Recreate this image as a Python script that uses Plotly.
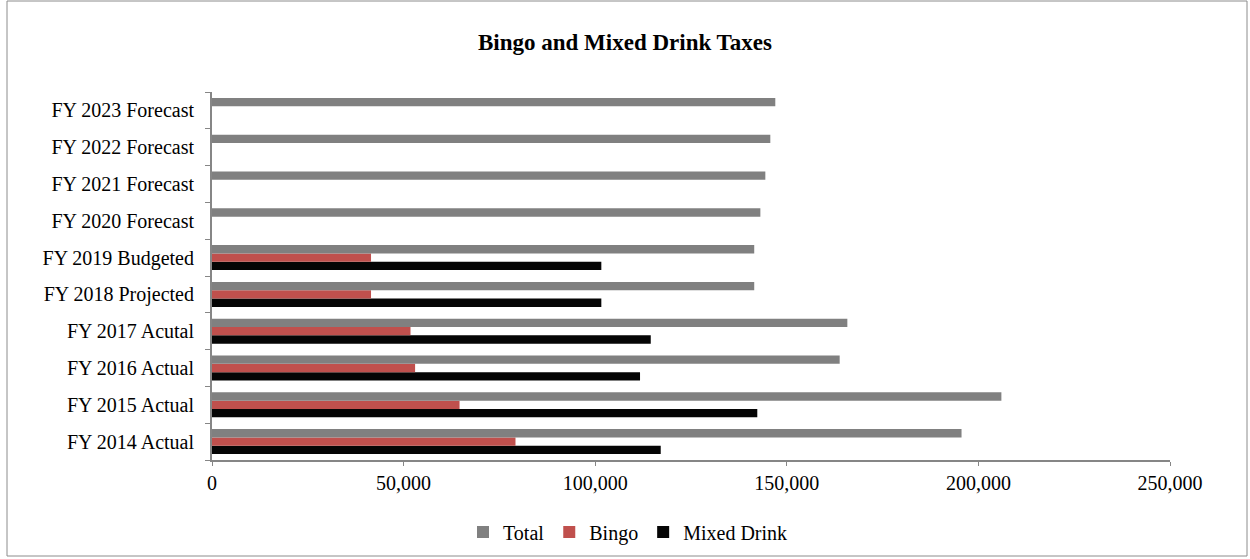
import plotly.graph_objects as go

categories = ["FY 2014 Actual", "FY 2015 Actual", "FY 2016 Actual", "FY 2017 Acutal",
              "FY 2018 Projected", "FY 2019 Budgeted", "FY 2020 Forecast",
              "FY 2021 Forecast", "FY 2022 Forecast", "FY 2023 Forecast"]
total = [195600, 206000, 163800, 165800, 141500, 141500, 143100, 144400, 145700, 147000]
bingo = [79200, 64600, 53000, 51800, 41500, 41500, None, None, None, None]
mixed_drink = [117100, 142300, 111700, 114500, 101600, 101600, None, None, None, None]
x_ticks = [0, 50000, 100000, 150000, 200000, 250000]
x_tick_text = ["0", "50,000", "100,000", "150,000", "200,000", "250,000"]

FONT = "Liberation Serif, Times New Roman, serif"
AXIS = "#868686"

fig = go.Figure()
fig.add_trace(go.Bar(y=categories, x=mixed_drink, name="Mixed Drink", orientation="h",
                     marker=dict(color="#050505", line=dict(width=0))))
fig.add_trace(go.Bar(y=categories, x=bingo, name="Bingo", orientation="h",
                     marker=dict(color="#C0504D", line=dict(width=0))))
fig.add_trace(go.Bar(y=categories, x=total, name="Total", orientation="h",
                     marker=dict(color="#808080", line=dict(width=0))))

fig.update_layout(
    width=1250, height=559,
    margin=dict(l=212, r=80, t=92, b=99),
    paper_bgcolor="white", plot_bgcolor="white",
    barmode="group", bargap=0.32, bargroupgap=0,
    font=dict(family=FONT, size=20, color="black"),
    title=dict(text="<b>Bingo and Mixed Drink Taxes</b>", x=625 / 1250, xref="container",
               y=1 - 42 / 559, yref="container", xanchor="center", yanchor="middle",
               font=dict(family=FONT, size=23, color="black")),
    showlegend=True,
    legend=dict(orientation="h", traceorder="reversed", xref="container", yref="container",
                x=628 / 1250, y=1 - 532 / 559, xanchor="center", yanchor="middle",
                font=dict(family=FONT, size=20), itemwidth=30),
    xaxis=dict(range=[0, 250000], tickmode="array", tickvals=x_ticks, ticktext=x_tick_text,
               showgrid=False, zeroline=False, showline=True, linecolor=AXIS, linewidth=2,
               ticks="outside", ticklen=4, tickcolor=AXIS, tickfont=dict(size=20)),
    yaxis=dict(categoryorder="array", categoryarray=categories, showgrid=False,
               showline=True, linecolor=AXIS, linewidth=2, ticks="outside", ticklen=5,
               tickcolor=AXIS, tickson="boundaries", tickfont=dict(size=20),
               ticklabelstandoff=12),
    shapes=[dict(type="rect", xref="paper", yref="paper",
                 x0=(7 - 212) / 958, x1=(1247 - 212) / 958,
                 y0=(460 - 556) / 368, y1=(460 - 1) / 368,
                 line=dict(color="#8c8c8c", width=1), fillcolor="rgba(0,0,0,0)", layer="below")],
)

fig.write_html("out.html")
